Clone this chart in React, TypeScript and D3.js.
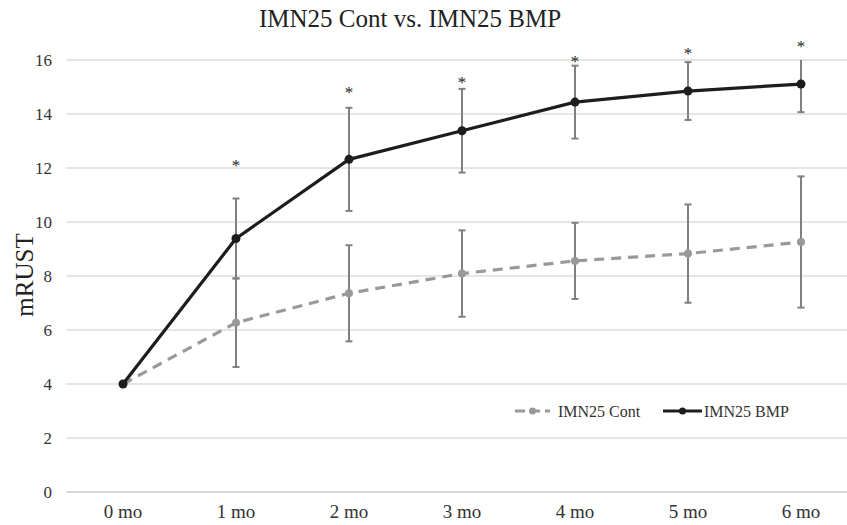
import React, { useEffect, useRef } from 'react';
import * as d3 from 'd3';

const categories = ['0 mo', '1 mo', '2 mo', '3 mo', '4 mo', '5 mo', '6 mo'];
const contValues = [4, 6.27, 7.36, 8.09, 8.56, 8.83, 9.26];
const contErrors = [0, 1.64, 1.78, 1.6, 1.41, 1.82, 2.43];
const bmpValues = [4, 9.39, 12.32, 13.38, 14.44, 14.85, 15.11];
const bmpErrors = [0, 1.48, 1.91, 1.55, 1.35, 1.07, 1.04];
const sigMarks = ['', '*', '*', '*', '*', '*', '*'];
const sigLevels = [0, 12.2, 14.9, 15.26, 16.03, 16.32, 16.61];
const yTicks = [0, 2, 4, 6, 8, 10, 12, 14, 16];

const W = 847;
const H = 525;
const FONT = '"Liberation Serif", "DejaVu Serif", serif';

const App = () => {
  const svgRef = useRef<SVGSVGElement>(null);

  useEffect(() => {
    const svg = d3.select(svgRef.current);
    svg.selectAll('*').remove();

    const x = d3.scalePoint<string>().domain(categories).range([123, 801]);
    const y = d3.scaleLinear().domain([0, 16]).range([492, 60]);
    const step = x.step();
    const plotLeft = x(categories[0])! - step / 2;
    const plotRight = x(categories[categories.length - 1])! + step / 2;

    // gridlines
    svg.append('g')
      .selectAll('line')
      .data(yTicks)
      .enter()
      .append('line')
      .attr('x1', plotLeft)
      .attr('x2', plotRight)
      .attr('y1', d => y(d))
      .attr('y2', d => y(d))
      .attr('stroke', d => (d === 0 ? '#c8c8c8' : '#dcdcdc'))
      .attr('stroke-width', 1.5);

    // y tick labels
    svg.append('g')
      .selectAll('text')
      .data(yTicks)
      .enter()
      .append('text')
      .attr('x', 52)
      .attr('y', d => y(d) + 5.5)
      .attr('text-anchor', 'end')
      .attr('font-family', FONT)
      .attr('font-size', 17)
      .attr('fill', '#333')
      .text(d => d);

    // x tick labels
    svg.append('g')
      .selectAll('text')
      .data(categories)
      .enter()
      .append('text')
      .attr('x', d => x(d)!)
      .attr('y', 518)
      .attr('text-anchor', 'middle')
      .attr('font-family', FONT)
      .attr('font-size', 19)
      .attr('fill', '#333')
      .text(d => d);

    // title
    svg.append('text')
      .attr('x', 410)
      .attr('y', 27)
      .attr('text-anchor', 'middle')
      .attr('font-family', FONT)
      .attr('font-size', 25)
      .attr('fill', '#222')
      .text('IMN25 Cont vs. IMN25 BMP');

    // y axis title
    svg.append('text')
      .attr('transform', 'translate(33,275) rotate(-90)')
      .attr('text-anchor', 'middle')
      .attr('font-family', FONT)
      .attr('font-size', 25)
      .attr('fill', '#222')
      .text('mRUST');

    const series = [
      { values: contValues, errors: contErrors, color: '#999999', dash: '10,7', r: 4 },
      { values: bmpValues, errors: bmpErrors, color: '#1e1c1d', dash: null, r: 4.5 },
    ];

    series.forEach(s => {
      const g = svg.append('g');
      // error bars
      s.values.forEach((v, i) => {
        const e = s.errors[i];
        if (!e) return;
        const cx = x(categories[i])!;
        const top = Math.min(16, v + e);
        const bottom = Math.max(0, v - e);
        g.append('line')
          .attr('x1', cx).attr('x2', cx)
          .attr('y1', y(top)).attr('y2', y(bottom))
          .attr('stroke', '#808080').attr('stroke-width', 2);
        const caps = [bottom];
        if (v + e <= 16) caps.push(top);
        caps.forEach(c => {
          g.append('line')
            .attr('x1', cx - 3.5).attr('x2', cx + 3.5)
            .attr('y1', y(c)).attr('y2', y(c))
            .attr('stroke', '#808080').attr('stroke-width', 2);
        });
      });

      const line = d3.line<number>()
        .x((d, i) => x(categories[i])!)
        .y(d => y(d));

      g.append('path')
        .datum(s.values)
        .attr('d', line)
        .attr('fill', 'none')
        .attr('stroke', s.color)
        .attr('stroke-width', 3.2)
        .attr('stroke-dasharray', s.dash)
        .attr('stroke-linejoin', 'round')
        .attr('stroke-linecap', 'butt');

      g.selectAll('circle')
        .data(s.values)
        .enter()
        .append('circle')
        .attr('cx', (d, i) => x(categories[i])!)
        .attr('cy', d => y(d))
        .attr('r', s.r)
        .attr('fill', s.color);
    });

    // significance marks; group opacity keeps them in grayscale antialiasing
    svg.append('g')
      .attr('opacity', 0.99)
      .selectAll('text')
      .data(sigMarks)
      .enter()
      .append('text')
      .attr('x', (d, i) => x(categories[i])!)
      .attr('y', (d, i) => y(sigLevels[i]) + 8)
      .attr('text-anchor', 'middle')
      .attr('font-family', FONT)
      .attr('font-size', 17)
      .attr('fill', '#222')
      .text(d => d);

    // legend
    const legend = svg.append('g').attr('transform', 'translate(0,411)');
    const items = [
      { label: 'IMN25 Cont', color: '#999999', dash: '10,5', x1: 515, x2: 550, tx: 558, r: 3.5 },
      { label: 'IMN25 BMP', color: '#1e1c1d', dash: null, x1: 663, x2: 702, tx: 704, r: 3.5 },
    ];
    items.forEach(it => {
      legend.append('line')
        .attr('x1', it.x1).attr('x2', it.x2)
        .attr('y1', 0).attr('y2', 0)
        .attr('stroke', it.color).attr('stroke-width', 3)
        .attr('stroke-dasharray', it.dash);
      legend.append('circle')
        .attr('cx', (it.x1 + it.x2) / 2).attr('cy', 0)
        .attr('r', it.r).attr('fill', it.color);
      legend.append('text')
        .attr('x', it.tx).attr('y', 5.5)
        .attr('font-family', FONT)
        .attr('font-size', 16)
        .attr('fill', '#333')
        .text(it.label);
    });
  }, []);

  return (
    <div style={{ position: 'fixed', left: 0, top: 0, width: W, height: H, background: '#fff' }}>
      <svg ref={svgRef} width={W} height={H} style={{ display: 'block' }}></svg>
    </div>
  );
};

export default App;
